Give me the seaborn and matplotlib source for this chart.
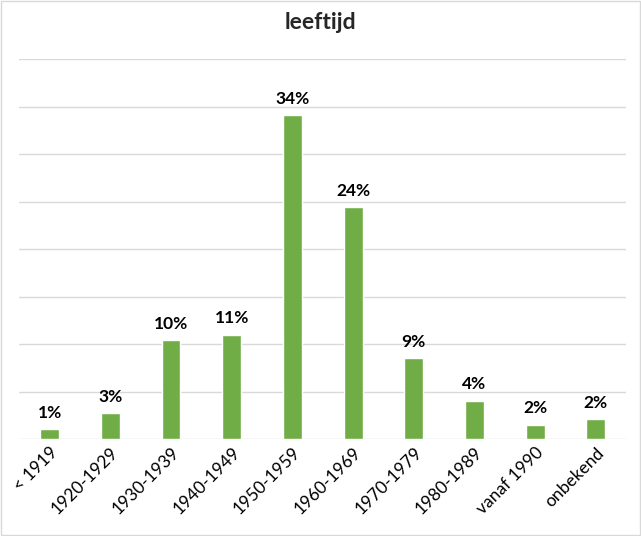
import seaborn as sns
from matplotlib import pyplot as plt
import pandas as pd

# leeftijdsgroepen en aandeel (%)
categories = ["< 1919", "1920-1929", "1930-1939", "1940-1949", "1950-1959",
              "1960-1969", "1970-1979", "1980-1989", "vanaf 1990", "onbekend"]
values = [1.0, 2.7, 10.4, 11.0, 34.1, 24.4, 8.5, 4.0, 1.5, 2.1]
labels = ["1%", "3%", "10%", "11%", "34%", "24%", "9%", "4%", "2%", "2%"]

data = pd.DataFrame({"groep": categories, "aandeel": values})

sns.set_style("white")
plt.rcParams["font.family"] = ["Lato", "DejaVu Sans"]

fig = plt.figure(figsize=(6.41, 5.36), dpi=100)
ax = fig.add_axes([0.030, 0.181, 0.947, 0.708])
sns.barplot(data=data, x="groep", y="aandeel", color="#70AD47", width=0.31,
            saturation=1, ax=ax, zorder=3)

for i, (v, lab) in enumerate(zip(values, labels)):
    ax.text(i, v + 0.9, lab, ha="center", va="bottom", fontsize=12.5,
            fontweight="bold", color="black")

ax.set_ylim(0, 40)
ax.set_xlim(-0.5, len(categories) - 0.5)
ax.set_yticks(range(0, 41, 5))
ax.set_yticklabels([])
ax.tick_params(axis="y", length=0)
ax.tick_params(axis="x", length=0, pad=4)
ax.yaxis.grid(True, color="#D9D9D9", linewidth=1, zorder=0)
for s in ax.spines.values():
    s.set_visible(False)
ax.set_xlabel("")
ax.set_ylabel("")
plt.setp(ax.get_xticklabels(), rotation=45, ha="right", rotation_mode="anchor",
         fontsize=12.5, color="black")

fig.suptitle("leeftijd", y=0.978, fontsize=16.5, fontweight="bold")
fig.patches.append(plt.Rectangle((0.001, 0.001), 0.997, 0.997, transform=fig.transFigure,
                                 fill=False, edgecolor="#D9D9D9", linewidth=1))

plt.savefig("out.png", dpi=100)
